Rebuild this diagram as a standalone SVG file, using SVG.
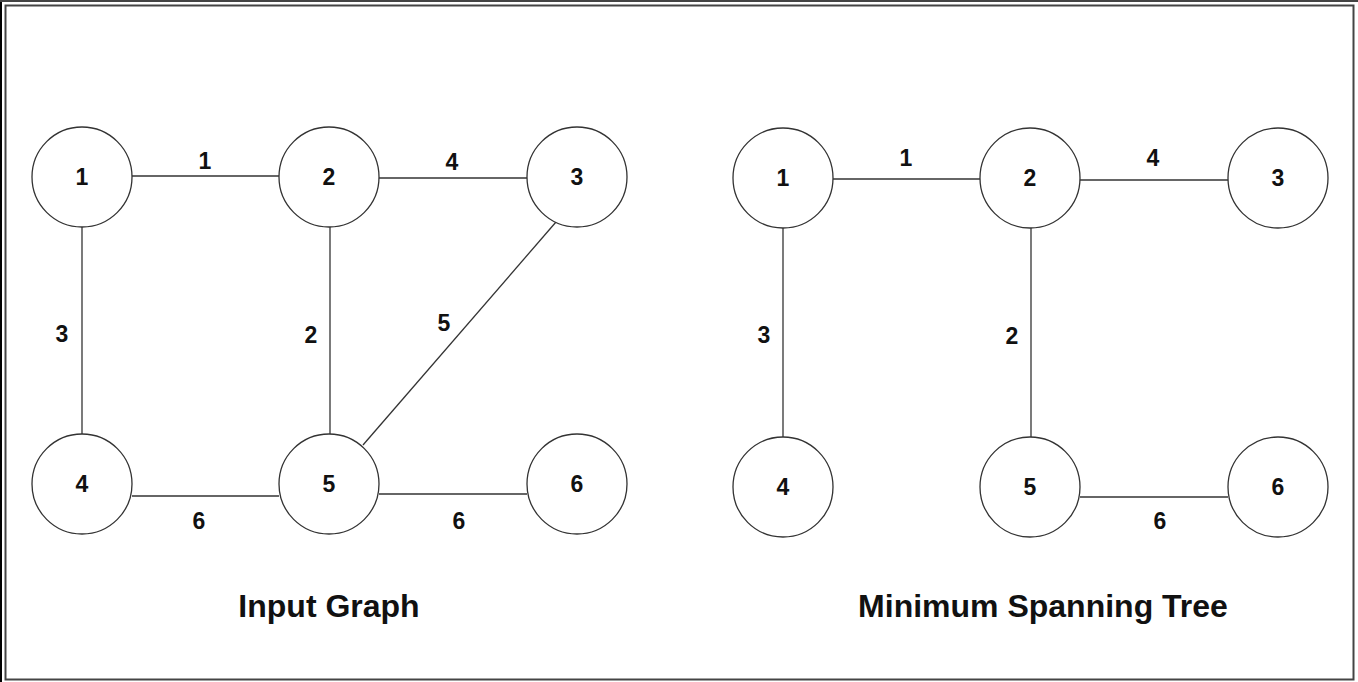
<svg xmlns="http://www.w3.org/2000/svg" width="1358" height="682" viewBox="0 0 1358 682">
  <style>
    .node circle { fill: #ffffff; stroke: #333333; stroke-width: 1.3; }
    .node text, .w { font-family: "Liberation Sans", Arial, sans-serif; font-weight: bold; font-size: 23px; fill: #111111; text-anchor: middle; dominant-baseline: central; }
    .edge { stroke: #333333; stroke-width: 1.3; fill: none; }
    .title { font-family: "Liberation Sans", Arial, sans-serif; font-weight: bold; font-size: 32px; fill: #111111; text-anchor: middle; }
  </style>
  <rect x="0" y="0" width="1358" height="682" fill="#ffffff"/>
  <!-- frame -->
  <line x1="1" y1="0" x2="1" y2="682" stroke="#000000" stroke-width="2"/>
  <line x1="0" y1="1" x2="1358" y2="1" stroke="#444444" stroke-width="2"/>
  <rect x="5.5" y="5.5" width="1348" height="674" fill="none" stroke="#444444" stroke-width="2"/>

  <!-- connectors -->
  <g id="connectors">
    <!-- input graph -->
    <line class="edge" x1="132" y1="176" x2="279" y2="176"/>
    <line class="edge" x1="379" y1="178" x2="527" y2="178"/>
    <line class="edge" x1="82" y1="225" x2="82" y2="434"/>
    <line class="edge" x1="330" y1="225" x2="330" y2="434"/>
    <line class="edge" x1="556" y1="222" x2="363" y2="445"/>
    <line class="edge" x1="132" y1="496" x2="279" y2="496"/>
    <line class="edge" x1="379" y1="494" x2="527" y2="494"/>
    <!-- minimum spanning tree -->
    <line class="edge" x1="833" y1="179" x2="980" y2="179"/>
    <line class="edge" x1="1080" y1="180" x2="1228" y2="180"/>
    <line class="edge" x1="783" y1="227" x2="783" y2="437"/>
    <line class="edge" x1="1031" y1="227" x2="1031" y2="437"/>
    <line class="edge" x1="1080" y1="497" x2="1228" y2="497"/>
  </g>

  <!-- edge weights -->
  <g id="weights">
    <text class="w" x="205" y="161">1</text>
    <text class="w" x="452" y="162">4</text>
    <text class="w" x="62" y="334">3</text>
    <text class="w" x="311" y="335">2</text>
    <text class="w" x="444" y="323">5</text>
    <text class="w" x="199" y="521">6</text>
    <text class="w" x="459" y="521">6</text>
    <text class="w" x="906" y="158">1</text>
    <text class="w" x="1153" y="158">4</text>
    <text class="w" x="764" y="335">3</text>
    <text class="w" x="1012" y="336">2</text>
    <text class="w" x="1160" y="521">6</text>
  </g>

  <!-- input graph nodes -->
  <g id="in-n1" class="node"><circle cx="82" cy="177" r="50"/><text x="82" y="177">1</text></g>
  <g id="in-n2" class="node"><circle cx="329" cy="177" r="50"/><text x="329" y="177">2</text></g>
  <g id="in-n3" class="node"><circle cx="577" cy="177" r="50"/><text x="577" y="177">3</text></g>
  <g id="in-n4" class="node"><circle cx="82" cy="484" r="50"/><text x="82" y="484">4</text></g>
  <g id="in-n5" class="node"><circle cx="329" cy="484" r="50"/><text x="329" y="484">5</text></g>
  <g id="in-n6" class="node"><circle cx="577" cy="484" r="50"/><text x="577" y="484">6</text></g>

  <!-- spanning tree nodes -->
  <g id="mst-n1" class="node"><circle cx="783" cy="178" r="50"/><text x="783" y="178">1</text></g>
  <g id="mst-n2" class="node"><circle cx="1030" cy="178" r="50"/><text x="1030" y="178">2</text></g>
  <g id="mst-n3" class="node"><circle cx="1278" cy="178" r="50"/><text x="1278" y="178">3</text></g>
  <g id="mst-n4" class="node"><circle cx="783" cy="487" r="50"/><text x="783" y="487">4</text></g>
  <g id="mst-n5" class="node"><circle cx="1030" cy="487" r="50"/><text x="1030" y="487">5</text></g>
  <g id="mst-n6" class="node"><circle cx="1278" cy="487" r="50"/><text x="1278" y="487">6</text></g>

  <!-- titles -->
  <g id="titles">
    <text class="title" x="329" y="617">Input Graph</text>
    <text class="title" x="1043" y="617">Minimum Spanning Tree</text>
  </g>
</svg>
